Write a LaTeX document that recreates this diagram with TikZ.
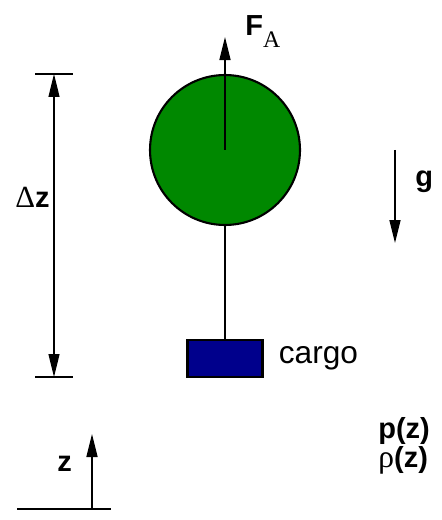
\documentclass[tikz,border=0pt]{standalone}
\usepackage{fontspec}
\setmainfont{Liberation Sans}
\newfontfamily\greekfont{Liberation Serif}
\usepackage{tikz}
\usetikzlibrary{positioning}
\usetikzlibrary{arrows.meta}

\definecolor{balloongreen}{RGB}{0,136,0}
\definecolor{cargoblue}{RGB}{0,0,140}

\tikzset{
    balloon/.style={circle, draw, fill=balloongreen, line width=1.2pt, minimum size=3.0cm, inner sep=0pt},
    cargobox/.style={rectangle, draw, fill=cargoblue, line width=1.2pt, minimum width=1.5cm, minimum height=0.74cm, inner sep=0pt},
    force/.style={-{Triangle[length=0.46cm,width=0.22cm]}, line width=0.9pt},
    dimline/.style={{Triangle[length=0.46cm,width=0.22cm]}-{Triangle[length=0.46cm,width=0.22cm]}, line width=0.7pt},
    bodyline/.style={line width=1.2pt},
    tick/.style={line width=0.8pt},
    lbl/.style={inner sep=0pt, font=\fontsize{16.5}{18}\selectfont\bfseries},
}

\begin{document}
\begin{tikzpicture}[x=0.02cm, y=-0.02cm]
    \useasboundingbox (0,0) rectangle (442,520);

    % balloon and cargo
    \node [balloon] (balloon) at (225,150) {};
    \node [cargobox, below=2.26cm of balloon.south] (cargo) {};
    \node [right=0.3cm of cargo, inner sep=0pt, font=\fontsize{18}{20}\selectfont] (cargolabel) {cargo};

    \draw [bodyline] (balloon.south) -- (cargo.north);

    % buoyancy
    \coordinate [above=2.26cm of balloon.center] (fatip);
    \draw [force] (balloon.center) -- (fatip);
    \node [lbl, anchor=base west] (falabel) at (245,36) {F\raisebox{-0.24cm}{\greekfont\mdseries\fontsize{13.5}{14}\selectfont A}};

    % height difference
    \coordinate (dztop) at (54,74);
    \coordinate (dzbot) at (54,377);
    \draw [dimline] (dztop) -- (dzbot);
    \draw [tick] ([xshift=-0.38cm]dztop) -- ([xshift=0.38cm]dztop);
    \draw [tick] ([xshift=-0.38cm]dzbot) -- ([xshift=0.38cm]dzbot);
    \node [lbl, anchor=base east] (dzlabel) at (50,207) {{\greekfont\mdseries\fontsize{17.5}{18}\selectfont Δ}z};

    % gravity
    \coordinate (gtop) at (395,150);
    \coordinate (gtip) at (395,243);
    \draw [force] (gtop) -- (gtip);
    \node [lbl, anchor=base west] (glabel) at (415,187) {g};

    % z axis
    \coordinate (groundwest) at (17,509);
    \coordinate (groundeast) at (111,509);
    \coordinate (zbase) at (92,509);
    \coordinate (ztip) at (92,434);
    \draw [tick] (groundwest) -- (groundeast);
    \draw [force] (zbase) -- (ztip);
    \node [lbl, anchor=base west] (zlabel) at (57,471) {z};

    % p, rho
    \node [lbl, anchor=base west] (plabel) at (378,438) {p(z)};
    \node [lbl, anchor=base west] (rholabel) at (378,467) {{\greekfont\mdseries\fontsize{18}{18}\selectfont ρ}(z)};
\end{tikzpicture}
\end{document}
